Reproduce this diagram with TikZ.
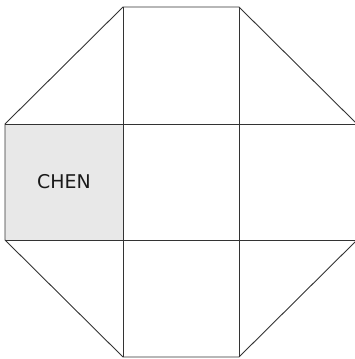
\documentclass[tikz,border=0pt]{standalone}
\usepackage{fontspec}
\newfontfamily\labelfont{DejaVu Sans}
\usepackage{tikz}
\usetikzlibrary{calc}
\definecolor{cellgray}{HTML}{E8E8E8}
\tikzset{
    every node/.style={font=\labelfont\fontsize{19}{22}\selectfont},
    gridline/.style={draw=black!80,line width=0.9pt},
    shaded/.style={fill=cellgray},
    cell/.style={inner sep=0pt,text=black!90}
}
\begin{document}
\begin{tikzpicture}[x=1bp,y=-1bp]
\useasboundingbox (0,0) rectangle (355,359);
\clip (0,0) rectangle (355,359);
% grid corners
\coordinate (a1) at (5,124);
\coordinate (a2) at (5,240);
\coordinate (b0) at (123,7);
\coordinate (b1) at (123,124);
\coordinate (b2) at (123,240);
\coordinate (b3) at (123,357);
\coordinate (c0) at (239,7);
\coordinate (c1) at (239,124);
\coordinate (c2) at (239,240);
\coordinate (c3) at (239,357);
\coordinate (d1) at (357,124);
\coordinate (d2) at (357,240);
% shaded cell
\fill[shaded] (a1) rectangle (b2);
\node[cell] (chen) at ($(a1)!0.5!(b2)$) {CHEN};
% outline
\draw[gridline,line join=miter] (a1) -- (b0) -- (c0) -- (d1) -- (d2) -- (c3) -- (b3) -- (a2) -- cycle;
% inner lines
\draw[gridline] (b0) -- (b3);
\draw[gridline] (c0) -- (c3);
\draw[gridline] (a1) -- (d1);
\draw[gridline] (a2) -- (d2);
\end{tikzpicture}
\end{document}
